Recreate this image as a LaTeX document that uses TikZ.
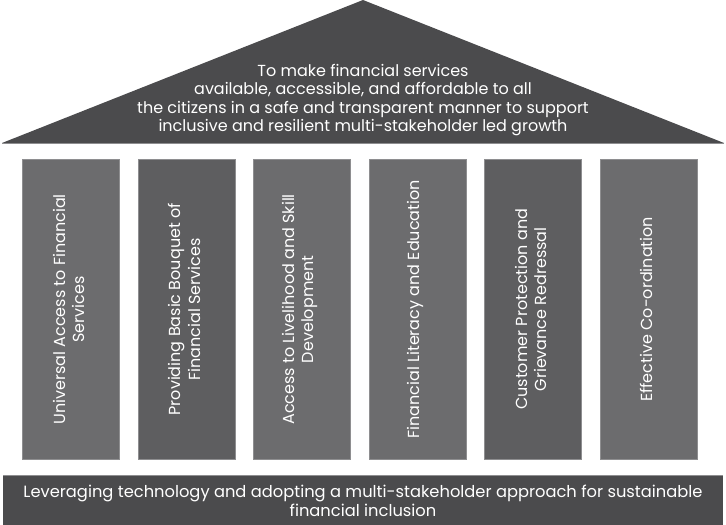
\documentclass[tikz,border=0pt]{standalone}
\usepackage{fontspec}
\setmainfont{Poppins}
\definecolor{roofc}{HTML}{4B4B4D}
\definecolor{pilLight}{HTML}{6C6C6E}
\definecolor{pilDark}{HTML}{5E5E60}
\definecolor{edgec}{HTML}{8E8E90}
\newcommand\tightlns{\setlength{\lineskiplimit}{-20pt}\setlength{\lineskip}{0pt}}
\begin{document}
\begin{tikzpicture}[x=1pt,y=-1pt,
  pillar/.style={draw=edgec,line width=0.6pt,minimum width=97pt,minimum height=300pt,inner sep=0pt,anchor=north west},
  pilltext/.style={text=white,font=\fontsize{16}{19.5}\selectfont\tightlns,align=center,rotate=90},
  bigtext/.style={text=white,align=center}]
\useasboundingbox (0,0) rectangle (726,525);
% roof
\fill[roofc] (2,143) -- (363,0) -- (724,143) -- cycle;
\draw[edgec,line width=0.6pt] (2,143) -- (724,143);
\node[bigtext,font=\fontsize{16}{18.4}\selectfont\tightlns] (roof) at (363,100)
  {To make financial services\\available, accessible, and affordable to all\\the citizens in a safe and transparent manner to support\\inclusive and resilient multi-stakeholder led growth};
% pillars
\node[pillar,fill=pilLight] (p1) at (22,159) {};
\node[pillar,fill=pilDark] (p2) at (137.6,159) {};
\node[pillar,fill=pilLight] (p3) at (253.2,159) {};
\node[pillar,fill=pilLight] (p4) at (368.8,159) {};
\node[pillar,fill=pilDark] (p5) at (484.4,159) {};
\node[pillar,fill=pilLight] (p6) at (600,159) {};
\node[pilltext] (t1) at ([xshift=-2pt]p1.center) {Universal Access to Financial\\Services};
\node[pilltext] (t2) at ([xshift=-2pt]p2.center) {Providing Basic Bouquet of\\Financial Services};
\node[pilltext] (t3) at ([xshift=-2pt]p3.center) {Access to Livelihood and Skill\\Development};
\node[pilltext] (t4) at ([xshift=-2pt]p4.center) {Financial Literacy and Education};
\node[pilltext] (t5) at ([xshift=-2pt]p5.center) {Customer Protection and\\Grievance Redressal};
\node[pilltext] (t6) at ([xshift=-2pt]p6.center) {Effective Co-ordination};
% base
\fill[roofc] (3,475) rectangle (723,525);
\draw[edgec,line width=0.6pt] (3,475) -- (723,475);
\node[bigtext,font=\fontsize{16.3}{18.4}\selectfont\tightlns] (base) at (363,501)
  {Leveraging technology and adopting a multi-stakeholder approach for sustainable\\financial inclusion};
\end{tikzpicture}
\end{document}
